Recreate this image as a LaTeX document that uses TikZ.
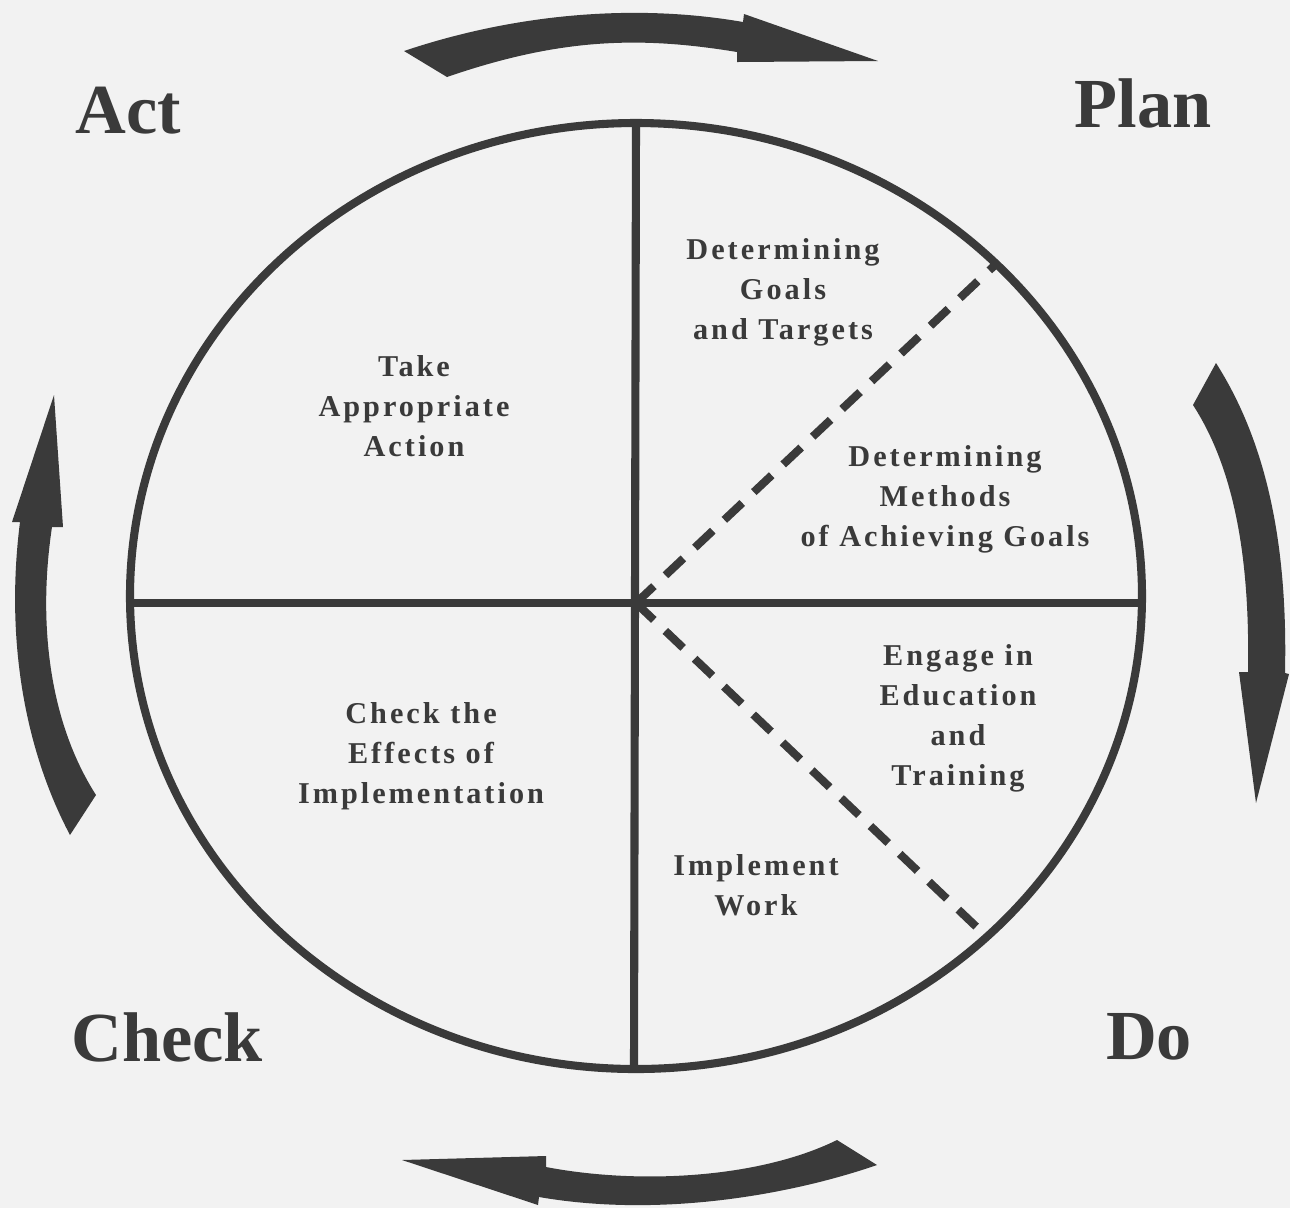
\documentclass[tikz,border=0pt]{standalone}
\usepackage{fontspec}
\setmainfont{Liberation Serif}
\newfontfamily\wheelfont[LetterSpace=10]{Liberation Serif}

\definecolor{ink}{HTML}{3A3A3A}
\definecolor{paper}{HTML}{F2F2F2}

\begin{document}
\begin{tikzpicture}[x=0.01cm,y=-0.01cm,
  phase/.style={text=ink,font=\fontsize{20}{24}\selectfont\bfseries},
  task/.style={text=ink,align=center,inner sep=0pt,
    font=\wheelfont\fontsize{8.6}{11.4}\selectfont\bfseries},
  spoke/.style={draw=ink,line width=2.3pt},
  turn/.style={fill=ink}]
\fill[paper] (0,0) rectangle (1290,1208);
\useasboundingbox (0,0) rectangle (1290,1208);

% wheel and its spokes
\coordinate (O) at (636,603);
\coordinate (N) at (636,123);
\coordinate (S) at (634,1068);
\coordinate (W) at (130,603);
\coordinate (E) at (1142,603);
\coordinate (P1) at (995,265);
\coordinate (P2) at (985,935);
\draw[spoke] (636,596) ellipse [x radius=506,y radius=473];
\draw[spoke] (N) -- (S);
\draw[spoke] (W) -- (E);
\draw[spoke,line cap=butt,dash pattern=on 7pt off 4.5pt] (O) -- (P1);
\draw[spoke,line cap=butt,dash pattern=on 7pt off 4.5pt] (O) -- (P2);

% the four turning arrows
\fill[turn] (404,51) .. controls (520,12) and (640,4) .. (743,22) -- (744,14)
  -- (878,61) -- (737,62) -- (737,52) .. controls (640,36) and (560,38) .. (447,77) -- cycle;
\fill[turn] (1216,363) .. controls (1265,440) and (1288,540) .. (1285,673) -- (1289,674)
  -- (1256,803) -- (1239,672) -- (1248,672) .. controls (1250,560) and (1235,470) .. (1193,405) -- cycle;
\fill[turn] (402,1160) -- (546,1156) -- (546,1167) .. controls (640,1185) and (760,1178) .. (837,1140)
  -- (877,1165) .. controls (790,1195) and (660,1218) .. (539,1197) -- (538,1205) -- cycle;
\fill[turn] (54,395) -- (63,527) -- (52,527) .. controls (38,620) and (48,720) .. (96,795)
  -- (70,835) .. controls (25,750) and (5,640) .. (20,522) -- (12,522) -- cycle;

% phase names
\node[phase,anchor=base] (act) at (128,133) {Act};
\node[phase,anchor=base] (plan) at (1143,127) {Plan};
\node[phase,anchor=base] (check) at (167,1061) {Check};
\node[phase,anchor=base] (do) at (1149,1059) {Do};

% what each sector holds
\node[task] (goals) at (783,292) {Determining\\Goals\\and Targets};
\node[task] (methods) at (945,499) {Determining\\Methods\\of Achieving Goals};
\node[task] (training) at (958,718) {Engage in\\Education\\and\\Training};
\node[task] (work) at (756,885) {Implement\\Work};
\node[task] (effects) at (421,756) {Check the\\Effects of\\Implementation};
\node[task] (action) at (414,406) {Take\\Appropriate\\Action};
\end{tikzpicture}
\end{document}
